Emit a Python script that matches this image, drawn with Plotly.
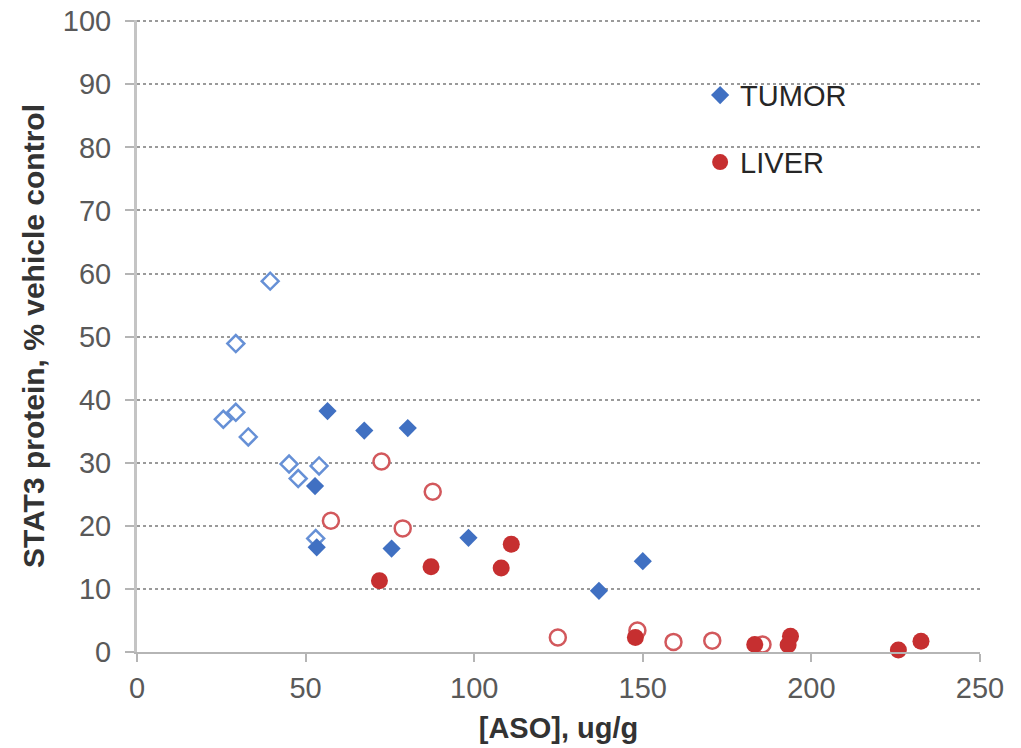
import plotly.graph_objects as go

# Tumor data (filled = one group, open = other group)
tumor_filled_x = [56.5, 67.4, 80.3, 52.8, 53.3, 75.5, 98.3, 137.0, 150.0]
tumor_filled_y = [38.2, 35.1, 35.5, 26.3, 16.6, 16.4, 18.1, 9.7, 14.4]
tumor_open_x = [39.5, 29.3, 25.6, 29.3, 33.0, 45.1, 47.8, 54.0, 53.0]
tumor_open_y = [58.8, 48.9, 36.9, 38.0, 34.1, 29.8, 27.5, 29.5, 18.0]

# Liver data
liver_filled_x = [71.9, 87.2, 108.0, 111.0, 147.8, 183.2, 193.8, 193.1, 225.8, 232.5]
liver_filled_y = [11.3, 13.5, 13.3, 17.1, 2.3, 1.2, 2.5, 1.1, 0.3, 1.7]
liver_open_x = [72.5, 87.7, 57.5, 78.8, 124.8, 148.4, 159.1, 170.6, 185.5]
liver_open_y = [30.2, 25.4, 20.8, 19.6, 2.3, 3.4, 1.6, 1.8, 1.2]

x_ticks = [0, 50, 100, 150, 200, 250]
y_ticks = [0, 10, 20, 30, 40, 50, 60, 70, 80, 90, 100]

BLUE = "#4070c2"
BLUE_LIGHT = "#6690d6"
RED = "#c62f30"
RED_LIGHT = "#d2585c"

fig = go.Figure()

fig.add_trace(go.Scatter(
    x=tumor_open_x, y=tumor_open_y, mode="markers", showlegend=False,
    marker=dict(symbol="diamond", size=13, color="white",
                line=dict(color=BLUE_LIGHT, width=2.5)),
    cliponaxis=False))
fig.add_trace(go.Scatter(
    x=liver_open_x, y=liver_open_y, mode="markers", showlegend=False,
    marker=dict(symbol="circle", size=16, color="white",
                line=dict(color=RED_LIGHT, width=2.5)),
    cliponaxis=False))
fig.add_trace(go.Scatter(
    x=tumor_filled_x, y=tumor_filled_y, mode="markers", name="TUMOR",
    marker=dict(symbol="diamond", size=14, color=BLUE, line=dict(width=0)),
    cliponaxis=False, legend="legend"))
fig.add_trace(go.Scatter(
    x=liver_filled_x, y=liver_filled_y, mode="markers", name="LIVER",
    marker=dict(symbol="circle", size=17, color=RED, line=dict(width=0)),
    cliponaxis=False, legend="legend2"))

FONT = "Liberation Sans, Arial, sans-serif"

fig.update_layout(
    width=1021, height=748,
    margin=dict(l=137, r=41, t=20, b=96, autoexpand=False),
    paper_bgcolor="white", plot_bgcolor="white",
    font=dict(family=FONT, color="#595959"),
    shapes=[dict(type="rect", xref="paper", yref="paper",
                 x0=0.626, x1=0.891, y0=0.73, y1=0.935,
                 fillcolor="white", line=dict(width=0), layer="between")],
    legend=dict(x=0.668, y=0.881, xanchor="left", yanchor="middle",
                bgcolor="rgba(0,0,0,0)", font=dict(size=29, color="#262626", family=FONT)),
    legend2=dict(x=0.668, y=0.775, xanchor="left", yanchor="middle",
                 bgcolor="rgba(0,0,0,0)", font=dict(size=29, color="#262626", family=FONT)),
    xaxis=dict(
        range=[0, 250], tickvals=x_ticks, ticktext=[str(v) for v in x_ticks],
        showgrid=False, zeroline=False,
        showline=True, linecolor="#b5b5b5", linewidth=2,
        ticks="outside", ticklen=8, tickwidth=2, tickcolor="#b5b5b5",
        ticklabelstandoff=1,
        tickfont=dict(size=29, color="#595959", family=FONT),
        title=dict(text="<b>[ASO], ug/g</b>", standoff=15,
                   font=dict(size=29, color="#333333", family=FONT)),
        automargin=False,
    ),
    yaxis=dict(
        range=[0, 100.2], tickvals=y_ticks, ticktext=[str(v) for v in y_ticks],
        showgrid=True, gridcolor="#9a9a9a", gridwidth=2, griddash="3px,3px",
        zeroline=False,
        showline=True, linecolor="#c4c4c4", linewidth=3,
        ticks="outside", ticklen=9, tickwidth=2, tickcolor="#b5b5b5",
        ticklabelstandoff=8, ticklabeloverflow="allow",
        tickfont=dict(size=29, color="#595959", family=FONT),
        title=dict(text="<b>STAT3 protein, % vehicle control</b>", standoff=10,
                   font=dict(size=30, color="#333333", family=FONT)),
        automargin=False,
    ),
)

fig.write_html("out.html",
               config={"displayModeBar": False},
               post_script="document.body.style.margin='0';document.body.style.overflow='hidden';")
